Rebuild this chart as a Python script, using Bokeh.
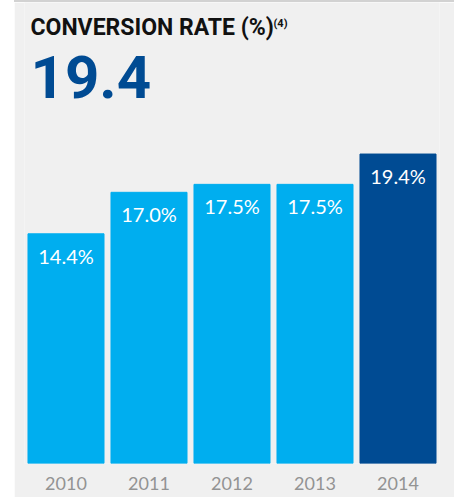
from bokeh.plotting import figure
from bokeh.models import Range1d, FixedTicker, Label, ColumnDataSource, Spacer
from bokeh.layouts import row, column
from bokeh.core.properties import value
from bokeh.embed import file_html
from bokeh.resources import INLINE

years = ["2010", "2011", "2012", "2013", "2014"]
rates = [14.4, 17.0, 17.5, 17.5, 19.4]
bar_colors = ["#00AEEF", "#00AEEF", "#00AEEF", "#00AEEF", "#004B93"]
title_text = "CONVERSION RATE (%)"
footnote = "(4)"

xs = list(range(len(years)))
src = ColumnDataSource(dict(x=xs, top=rates, color=bar_colors,
                            label=[f"{v:.1f}%" for v in rates]))

p = figure(width=440, height=495, output_backend="svg", toolbar_location=None,
           x_range=Range1d(-0.5, len(years) - 0.5), y_range=Range1d(0, 28.90),
           min_border_left=10, min_border_right=15, min_border_top=0, min_border_bottom=34)
p.background_fill_color = "#F0F0F0"
p.border_fill_color = "#F0F0F0"
p.outline_line_color = None
p.grid.visible = False
p.yaxis.visible = False

p.vbar(x="x", top="top", bottom=0, width=0.916, color="color", source=src)
p.text(x="x", y="top", text="label", source=src, text_color="white",
       text_align="center", text_baseline="alphabetic", y_offset=22,
       text_font=value("Lato"), text_font_size="20px")

ax = p.xaxis[0]
ax.ticker = FixedTicker(ticks=xs)
ax.major_label_overrides = {i: y for i, y in zip(xs, years)}
ax.axis_line_color = None
ax.major_tick_line_color = None
ax.minor_tick_line_color = None
ax.major_label_text_font = "Lato"
ax.major_label_text_font_size = "18px"
ax.major_label_text_color = "#939393"
ax.major_label_standoff = 7

p.add_layout(Label(x=-0.428, y=27.36, text=title_text, text_font="Roboto",
                   text_font_style="bold", text_font_size="23px", text_color="#111111",
                   text_baseline="alphabetic"))
p.add_layout(Label(x=2.5, y=27.56, text=footnote, text_font="Roboto",
                   text_font_style="bold", text_font_size="11px", text_color="#111111",
                   text_baseline="alphabetic"))
p.add_layout(Label(x=-0.428, y=24.2, text=f"{rates[-1]:.1f}", text_font="Roboto",
                   text_font_style="bold", text_font_size="60px", text_color="#004B93",
                   text_baseline="alphabetic"))

top_line = Spacer(width=440, height=2, styles={"background-color": "#D2D2D2"})
layout = row(Spacer(width=14, height=497), column(top_line, p, spacing=0), spacing=0)
open("out.html", "w").write(file_html(layout, INLINE))
